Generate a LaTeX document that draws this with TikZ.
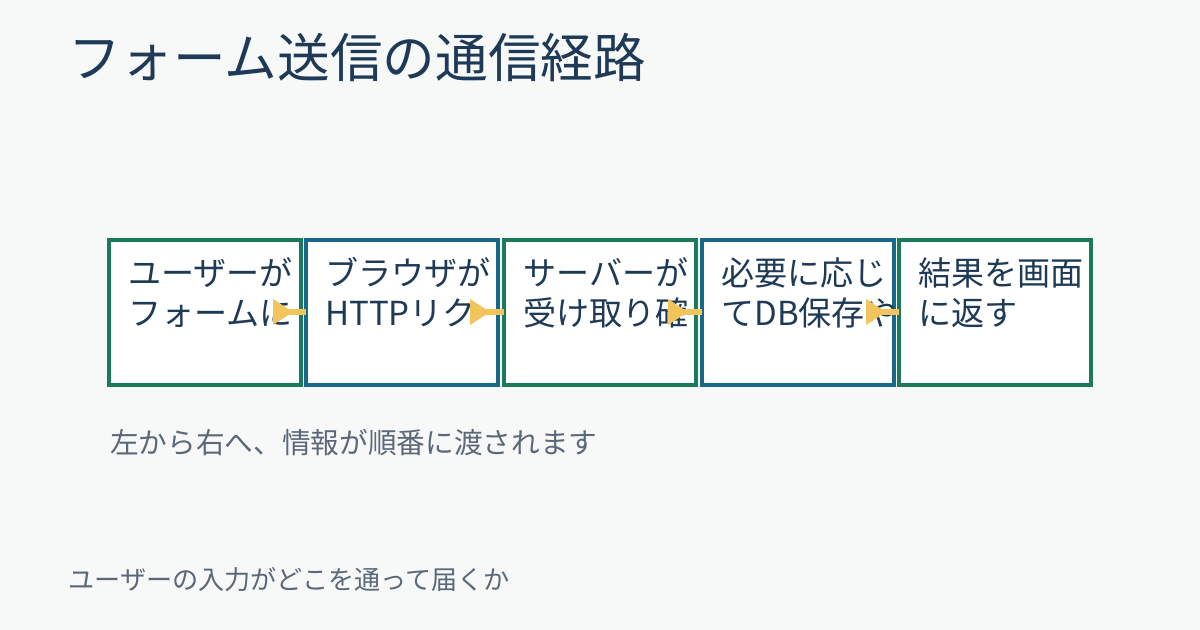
\documentclass[tikz,border=0pt]{standalone}
\usepackage{fontspec}
\usetikzlibrary{calc}
\setmainfont{Noto Sans CJK JP}
\begin{document}
\begin{tikzpicture}[x=0.75pt,y=-0.75pt,
  btxt/.style={anchor=north west,align=left,font=\fontsize{24.8}{30}\selectfont,text=titc,inner sep=0pt},
  conn/.style={draw=arrc,line width=4.5pt}]
\definecolor{bg}{HTML}{F7F9F9}
\definecolor{titc}{HTML}{1E3A56}
\definecolor{grn}{HTML}{1B7A5C}
\definecolor{blu}{HTML}{17688A}
\definecolor{arrc}{HTML}{F2C55C}
\definecolor{gry}{HTML}{5A6878}
\fill[bg] (0,0) rectangle (1200,630);
\useasboundingbox (0,0) rectangle (1200,630);
\node[anchor=west,font=\fontsize{39.5}{44}\selectfont,text=titc,inner sep=0pt] (title) at (68,58) {フォーム送信の通信経路};
\foreach \i/\x/\c/\t in {1/109/grn/{ユーザーが\\フォームに},2/306/blu/{ブラウザが\\HTTPリク},3/504/grn/{サーバーが\\受け取り確},4/702/blu/{必要に応じ\\てDB保存や},5/899/grn/{結果を画面\\に返す}}{
  \draw[\c,line width=3pt,fill=white] (\x,240) rectangle ++(192,145);
  \coordinate (b\i w) at (\x,312);
  \coordinate (b\i e) at (\x+192,312);
  \begin{scope}
    \clip (\x+2,242) rectangle ++(188,141);
    \node[btxt] (t\i) at (\x+19,257) {\t};
  \end{scope}
}
\foreach \a/\b in {1/2,2/3,3/4,4/5}{
  \draw[conn] ($(b\a e)+(-12,0)$) -- (b\b w);
  \fill[arrc] ($(b\a e)+(-28,-13)$) -- ($(b\a e)+(-8,0)$) -- ($(b\a e)+(-28,13)$) -- cycle;
}
\node[anchor=west,font=\fontsize{21.5}{26}\selectfont,text=gry,inner sep=0pt] (cap) at (110,443) {左から右へ、情報が順番に渡されます};
\node[anchor=west,font=\fontsize{19.6}{24}\selectfont,text=gry,inner sep=0pt] (foot) at (68,580) {ユーザーの入力がどこを通って届くか};
\end{tikzpicture}
\end{document}
